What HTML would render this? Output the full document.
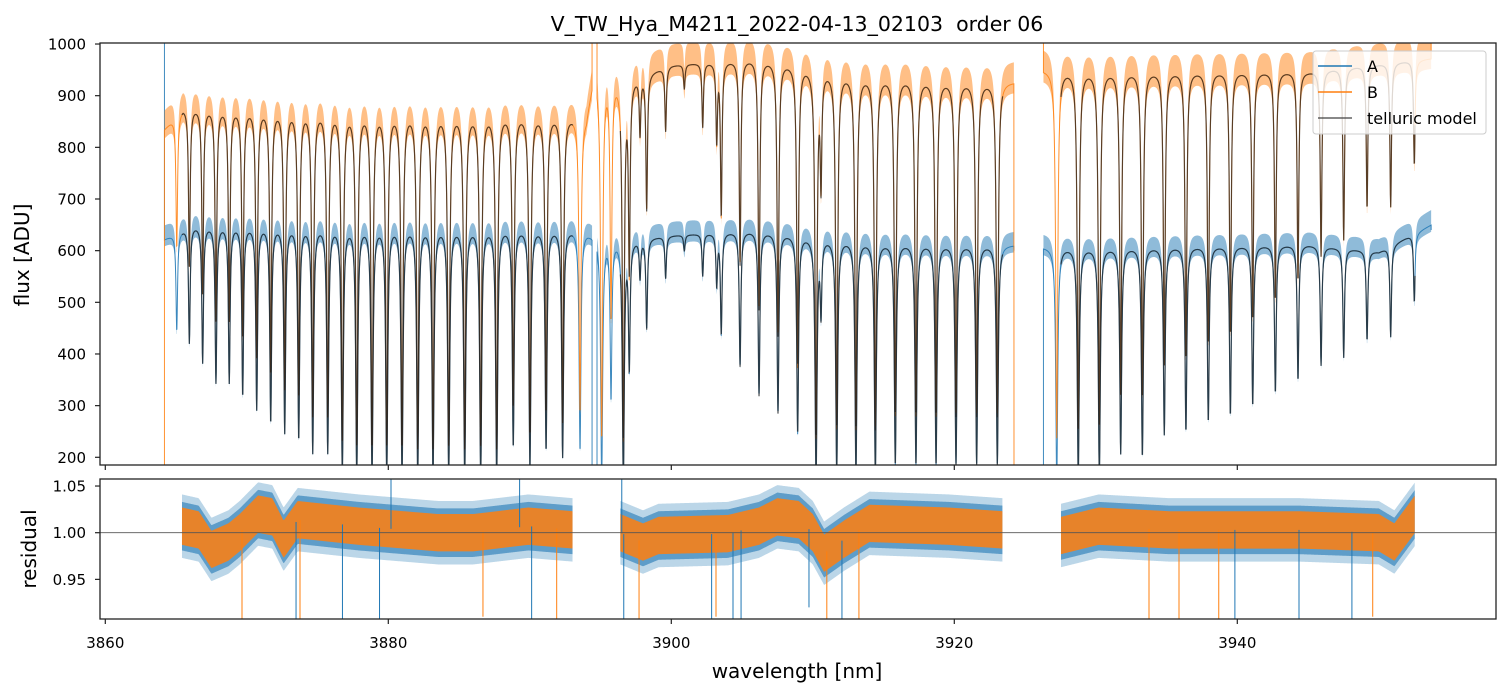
<!DOCTYPE html>
<html><head><meta charset="utf-8"><style>
html,body{margin:0;padding:0;background:#fff;}
svg{display:block;font-family:"DejaVu Sans","Liberation Sans",sans-serif;}
</style></head><body>
<svg id="chart" width="1510" height="696" viewBox="0 0 1510 696" xmlns="http://www.w3.org/2000/svg">
<defs>
<clipPath id="clipTop"><rect x="100" y="43" width="1396" height="422"/></clipPath>
<clipPath id="clipRes"><rect x="100" y="479" width="1396" height="140"/></clipPath>
</defs>
<rect x="0" y="0" width="1510" height="696" fill="#fff"/>
<text x="797" y="31" text-anchor="middle" font-size="20.5" fill="#000">V_TW_Hya_M4211_2022-04-13_02103&#160; order 06</text>
<g id="topPlot" clip-path="url(#clipTop)"></g>
<g id="resPlot" clip-path="url(#clipRes)"></g>
<g id="axes"></g>
<text transform="translate(29,255) rotate(-90)" text-anchor="middle" font-size="20" fill="#000">flux [ADU]</text>
<text transform="translate(36,549) rotate(-90)" text-anchor="middle" font-size="20" fill="#000">residual</text>
<text x="797" y="678" text-anchor="middle" font-size="20" fill="#000">wavelength [nm]</text>
<g>
<rect x="1313" y="51" width="173" height="83" rx="3" fill="#fff" fill-opacity="0.8" stroke="#ccc"/>
<line x1="1318" y1="66" x2="1352" y2="66" stroke="#1f77b4" stroke-width="1.5"/>
<text x="1367" y="72" font-size="16" fill="#000">A</text>
<line x1="1318" y1="92" x2="1352" y2="92" stroke="#ff7f0e" stroke-width="1.5"/>
<text x="1367" y="98" font-size="16" fill="#000">B</text>
<line x1="1318" y1="118" x2="1352" y2="118" stroke="#444" stroke-width="1.5" stroke-opacity="0.85"/>
<text x="1367" y="124" font-size="16" fill="#000">telluric model</text>
</g>
</svg>
<script>
// ---- data ----
var lineWave = [3865.05,3865.94,3866.88,3867.82,3868.76,3869.71,3870.70,3871.69,3872.68,3873.67,3874.66,3875.72,3876.75,3877.77,3878.85,3879.89,3880.97,3882.08,3883.16,3884.27,3885.40,3886.53,3887.66,3888.83,3890.01,3891.15,3892.32,3893.55,
 3895.08,3895.74,3896.61,3897.03,3897.79,3898.26,3899.60,3900.92,3902.22,3903.21,3903.53,3904.86,3906.20,3907.54,3908.93,3910.23,3910.58,3911.69,3913.05,3914.42,3915.83,3917.29,3918.71,3920.12,3921.58,3923.04,
 3927.24,3928.76,3930.25,3931.76,3933.29,3934.84,3936.37,3937.95,3939.51,3941.09,3942.69,3944.29,3945.92,3947.52,3949.17,3950.84,3952.51];
var lineMin = [0.70,0.65,0.59,0.53,0.53,0.49,0.45,0.41,0.38,0.36,0.32,0.32,0.26,0.25,0.25,0.25,0.25,0.25,0.25,0.25,0.25,0.25,0.25,0.34,0.28,0.33,0.31,0.33,
 0.25,0.50,0.25,0.60,0.88,0.72,0.87,0.95,0.87,0.84,0.69,0.59,0.50,0.45,0.39,0.25,0.77,0.27,0.27,0.27,0.30,0.30,0.30,0.30,0.30,0.30,
 0.25,0.27,0.27,0.34,0.33,0.40,0.41,0.44,0.46,0.49,0.53,0.57,0.62,0.65,0.71,0.71,0.79];
var contWaveA = [3864.0,3866.0,3880.0,3893.5,3894.0,3894.5,3897.0,3900.0,3906.0,3910.0,3915.0,3923.0,3924.5,3926.2,3930.0,3945.0,3950.0,3953.7];
var contValA  = [620,650,652,645,640,632,622,630,640,628,617,612,612,608,607,612,598,650];
var contWaveB = [3864.0,3865.5,3880.0,3893.5,3894.0,3894.5,3897.0,3900.0,3906.0,3909.0,3913.0,3923.0,3924.5,3926.2,3930.0,3945.0,3953.7];
var contValB  = [830,880,876,866,866,945,935,960,974,962,942,928,928,952,950,948,972];
var segStart = [3864.18,3894.75,3926.30];
var segEnd   = [3894.40,3924.22,3953.70];
var modelStart = [3865.42,3896.40,3927.54];
var modelEnd   = [3893.05,3923.43,3952.56];
var edgeStartA = [1100,100,100];
var edgeEndA   = [100,600,640];
var edgeStartB = [100,1100,1100];
var edgeEndB   = [1100,100,1100];
var resKnotWave = [3865.42,3866.6,3867.5,3868.7,3869.5,3870.8,3871.8,3872.6,3873.6,3877.9,3883.5,3886.0,3889.9,3893.05,
 3896.4,3898.0,3899.1,3904.0,3906.2,3907.5,3909.0,3910.0,3910.8,3912.2,3914.0,3919.6,3923.43,
 3927.54,3930.2,3935.2,3944.4,3950.0,3951.1,3952.56];
var resKnotLevel = [1.007,1.003,0.982,0.99,1.0,1.02,1.017,0.993,1.014,1.007,1.0,1.0,1.007,1.003,
 1.0,0.99,0.997,0.999,1.007,1.017,1.014,1.0,0.978,0.993,1.01,1.007,1.003,
 0.997,1.007,1.003,1.003,1.0,0.99,1.02];
var resSpikeWaveA = [3873.48,3876.76,3879.38,3890.13,3896.64,3902.85,3904.36,3904.93,3909.73,3912.06,3939.83,3944.36,3948.10,3880.19,3889.28,3896.50];
var resSpikeValA  = [0.90,0.90,0.90,0.90,0.90,0.90,0.90,0.90,0.92,0.90,0.90,0.90,0.90,1.06,1.06,1.06];
var resSpikeWaveB = [3869.66,3873.76,3886.69,3891.90,3897.72,3903.16,3910.99,3913.26,3933.76,3935.88,3938.69,3949.57];
var resSpikeValB  = [0.90,0.90,0.91,0.90,0.90,0.91,0.90,0.90,0.90,0.90,0.90,0.91];
var xTicks = [3860,3880,3900,3920,3940];
var yTicks = [200,300,400,500,600,700,800,900,1000];
var rTicks = [0.95,1.00,1.05];

// ---- scales ----
function xs(l){return 105.3+(l-3860)*14.15;}
function yTop(f){return 457.3-(f-200)*0.5166;}
function yRes(r){return 532.7-(r-1)*933.4;}
function interp(X,Y,x){
  if(x<=X[0])return Y[0];
  for(var i=1;i<X.length;i++){if(x<=X[i]){var t=(x-X[i-1])/(X[i]-X[i-1]);return Y[i-1]+t*(Y[i]-Y[i-1]);}}
  return Y[Y.length-1];
}
var W=0.06;
function trans(l){
  var tau=0;
  for(var i=0;i<lineWave.length;i++){var d=(l-lineWave[i])/W;if(Math.abs(d)<200)tau+=-Math.log(lineMin[i])/(1+d*d);}
  return Math.exp(-tau);
}
var NS="http://www.w3.org/2000/svg";
var topG=document.getElementById('topPlot'),resG=document.getElementById('resPlot'),axesG=document.getElementById('axes');
function mk(tag,attrs,parent){var e=document.createElementNS(NS,tag);for(var k in attrs)e.setAttribute(k,attrs[k]);parent.appendChild(e);return e;}
function f1(v){return v.toFixed(2);}
var STEP=0.02;

function drawData(contW,contV,eS,eE,color,name,opac){
  for(var s=0;s<segStart.length;s++){
    var pts=[],up=[],lo=[];
    pts.push(f1(xs(segStart[s]))+','+f1(yTop(eS[s])));
    for(var l=segStart[s];l<=segEnd[s];l+=STEP){
      var f=interp(contW,contV,l)*trans(l);
      pts.push(f1(xs(l))+','+f1(yTop(f)));
      up.push(f1(xs(l))+','+f1(yTop(f*1.045)));
      lo.unshift(f1(xs(l))+','+f1(yTop(f*0.98)));
    }
    pts.push(f1(xs(segEnd[s]))+','+f1(yTop(eE[s])));
    var band=mk('polygon',{points:up.concat(lo).join(' '),fill:color,'fill-opacity':0.5,stroke:'none'},topG);
    
    
    var pl=mk('polyline',{points:pts.join(' '),fill:'none',stroke:color,'stroke-width':1,'stroke-opacity':opac},topG);
    
    
  }
}
function drawModel(contW,contV,name){
  for(var s=0;s<modelStart.length;s++){
    var pts=[];
    for(var l=modelStart[s];l<=modelEnd[s];l+=STEP){
      pts.push(f1(xs(l))+','+f1(yTop(interp(contW,contV,l)*trans(l))));
    }
    var pl=mk('polyline',{points:pts.join(' '),fill:'none',stroke:'#222','stroke-width':1.2,'stroke-opacity':0.75},topG);
    
    
  }
}
drawData(contWaveA,contValA,edgeStartA,edgeEndA,'#1f77b4','series-a',0.85);
drawData(contWaveB,contValB,edgeStartB,edgeEndB,'#ff7f0e','series-b',0.85);
drawModel(contWaveA,contValA,'telluric-model-a');
drawModel(contWaveB,contValB,'telluric-model-b');

function drawResBand(half,color,op,name){
  for(var s=0;s<modelStart.length;s++){
    var up=[],lo=[];
    for(var l=modelStart[s];l<=modelEnd[s];l+=0.05){
      var v=interp(resKnotWave,resKnotLevel,l);
      up.push(f1(xs(l))+','+f1(yRes(v+half)));
      lo.unshift(f1(xs(l))+','+f1(yRes(v-half)));
    }
    var p=mk('polygon',{points:up.concat(lo).join(' '),fill:color,'fill-opacity':op},resG);
    
    
  }
}
drawResBand(0.034,'#1f77b4',0.3,'residual-a-outer-band');
drawResBand(0.026,'#1f77b4',0.6,'residual-a-band');
drawResBand(0.02,'#ff7f0e',0.85,'residual-b-band');
for(var i=0;i<resSpikeWaveA.length;i++){
  var v=interp(resKnotWave,resKnotLevel,resSpikeWaveA[i]);
  var sp=mk('line',{x1:f1(xs(resSpikeWaveA[i])),x2:f1(xs(resSpikeWaveA[i])),y1:f1(yRes(v)),y2:f1(yRes(resSpikeValA[i])),stroke:'#1f77b4','stroke-width':1},resG);
  
  
}
for(var i=0;i<resSpikeWaveB.length;i++){
  var v=interp(resKnotWave,resKnotLevel,resSpikeWaveB[i]);
  var sp=mk('line',{x1:f1(xs(resSpikeWaveB[i])),x2:f1(xs(resSpikeWaveB[i])),y1:f1(yRes(v)),y2:f1(yRes(resSpikeValB[i])),stroke:'#ff7f0e','stroke-width':1},resG);
  
  
}
var ref=mk('line',{x1:100,x2:1496,y1:yRes(1),y2:yRes(1),stroke:'#555','stroke-width':0.9},resG);



var fr1=mk('rect',{x:100,y:43,width:1396,height:422,fill:'none',stroke:'#222','stroke-width':1.3},axesG);


var fr2=mk('rect',{x:100,y:479,width:1396,height:140,fill:'none',stroke:'#222','stroke-width':1.3},axesG);


for(var i=0;i<xTicks.length;i++){
  var x=xs(xTicks[i]);
  var t1=mk('line',{x1:x,x2:x,y1:465,y2:470,stroke:'#222','stroke-width':1.2},axesG);
  
  
  var t2=mk('line',{x1:x,x2:x,y1:619,y2:624,stroke:'#222','stroke-width':1.2},axesG);
  
  
  var tl=mk('text',{x:x,y:648,'text-anchor':'middle','font-size':15,fill:'#000'},axesG);
  tl.textContent=xTicks[i];
  
  
}
for(var i=0;i<yTicks.length;i++){
  var y=yTop(yTicks[i]);
  var t=mk('line',{x1:95,x2:100,y1:y,y2:y,stroke:'#222','stroke-width':1.2},axesG);
  
  
  var tl=mk('text',{x:86,y:y+5.5,'text-anchor':'end','font-size':15,fill:'#000'},axesG);
  tl.textContent=yTicks[i];
  
  
}
for(var i=0;i<rTicks.length;i++){
  var y=yRes(rTicks[i]);
  var t=mk('line',{x1:95,x2:100,y1:y,y2:y,stroke:'#222','stroke-width':1.2},axesG);
  
  
  var tl=mk('text',{x:86,y:y+5.5,'text-anchor':'end','font-size':15,fill:'#000'},axesG);
  tl.textContent=rTicks[i].toFixed(2);
  
  
}
</script>
</body></html>
